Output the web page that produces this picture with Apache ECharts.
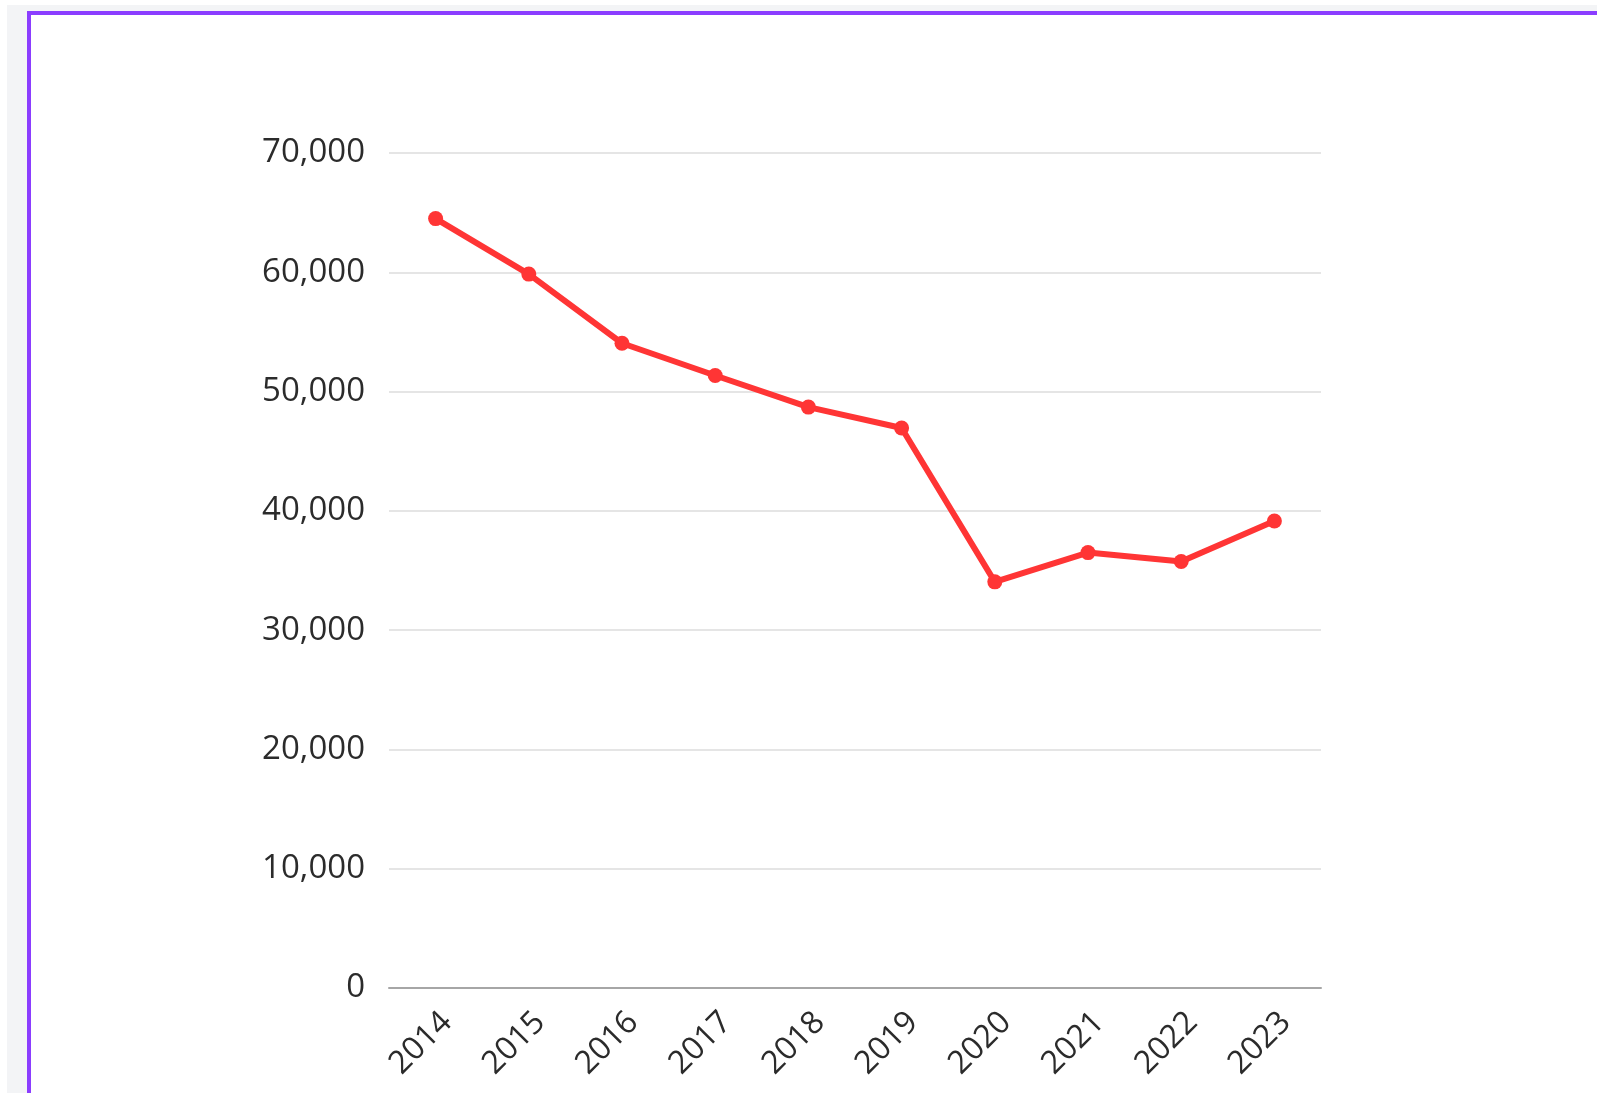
<!DOCTYPE html>
<html>
<head>
<meta charset="utf-8">
<script src="https://cdn.jsdelivr.net/npm/echarts@6/dist/echarts.min.js"></script>
<style>
  html, body { margin: 0; padding: 0; width: 1597px; height: 1093px; overflow: hidden; background: #ffffff; }
  #bg { position: absolute; left: 7px; top: 5px; right: 0; bottom: 0; background: #f3f4f6; }
  #panel { position: absolute; left: 27px; top: 11px; width: 1600px; height: 1100px; background: #ffffff;
           border-left: 4px solid #8b3dff; border-top: 4px solid #8b3dff; box-sizing: border-box; }
  #chart { position: absolute; left: 0; top: 0; width: 1597px; height: 1093px; }
</style>
</head>
<body>
<div id="bg"></div>
<div id="panel"></div>
<div id="chart"></div>
<script>
const categories = ['2014', '2015', '2016', '2017', '2018', '2019', '2020', '2021', '2022', '2023'];
const values = [64500, 59850, 54050, 51350, 48700, 46950, 34050, 36500, 35750, 39150];
const yTicks = [0, 10000, 20000, 30000, 40000, 50000, 60000, 70000];

const chart = echarts.init(document.getElementById('chart'), null, { renderer: 'canvas' });
chart.setOption({
  backgroundColor: 'transparent',
  animation: false,
  grid: { left: 389, top: 153, width: 932, height: 835 },
  xAxis: {
    type: 'category',
    data: categories,
    boundaryGap: true,
    axisLine: { show: true, lineStyle: { color: '#a6a6a6', width: 2 } },
    axisTick: { show: false },
    axisLabel: {
      rotate: 45,
      margin: 18,
      verticalAlign: 'top',
      fontFamily: 'Open Sans',
      fontSize: 32,
      color: '#2b2b2b',
      interval: 0
    },
    splitLine: { show: false }
  },
  yAxis: {
    type: 'value',
    min: yTicks[0],
    max: yTicks[yTicks.length - 1],
    interval: yTicks[1] - yTicks[0],
    axisLine: { show: false },
    axisTick: { show: false },
    axisLabel: {
      margin: 24,
      fontFamily: 'Open Sans',
      fontSize: 33,
      color: '#2b2b2b',
      formatter: v => v.toLocaleString('en-US')
    },
    splitLine: { show: true, lineStyle: { color: '#dddddd', width: 1.5 } }
  },
  series: [{
    type: 'line',
    data: values,
    symbol: 'circle',
    symbolSize: 15,
    showSymbol: true,
    lineStyle: { color: '#ff3535', width: 6 },
    itemStyle: { color: '#ff3535' }
  }]
});
</script>
</body>
</html>
